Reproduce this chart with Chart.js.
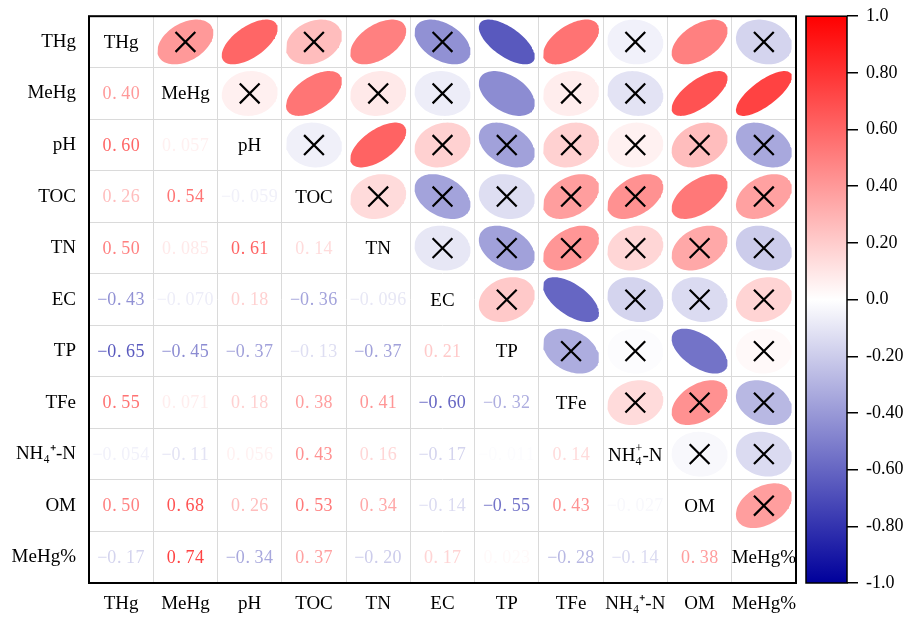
<!DOCTYPE html>
<html>
<head>
<meta charset="utf-8">
<script src="https://cdn.jsdelivr.net/npm/chart.js@4.4.0/dist/chart.umd.min.js"></script>
<style>
  html, body { margin: 0; padding: 0; background: #ffffff; }
  #wrap { width: 916px; height: 619px; }
</style>
</head>
<body>
<div id="wrap"><canvas id="c" width="916" height="619"></canvas></div>
<script>
// ---------------- data ----------------
const variables = ['THg', 'MeHg', 'pH', 'TOC', 'TN', 'EC', 'TP', 'TFe', 'NH4+-N', 'OM', 'MeHg%'];
const axisLabels = ['THg', 'MeHg', 'pH', 'TOC', 'TN', 'EC', 'TP', 'TFe', 'NH\u2084\u207A-N', 'OM', 'MeHg%'];

// lower-triangle correlation coefficients (row variable vs. earlier columns)
const rTHg   = [];
const rMeHg  = [0.40];
const rPH    = [0.60, 0.057];
const rTOC   = [0.26, 0.54, -0.059];
const rTN    = [0.50, 0.085, 0.61, 0.14];
const rEC    = [-0.43, -0.070, 0.18, -0.36, -0.096];
const rTP    = [-0.65, -0.45, -0.37, -0.13, -0.37, 0.21];
const rTFe   = [0.55, 0.071, 0.18, 0.38, 0.41, -0.60, -0.32];
const rNH4   = [-0.054, -0.11, 0.056, 0.43, 0.16, -0.17, -0.011, 0.14];
const rOM    = [0.50, 0.68, 0.26, 0.53, 0.34, -0.14, -0.55, 0.43, -0.027];
const rMeHgP = [-0.17, 0.74, -0.34, 0.37, -0.20, 0.17, 0.023, -0.28, -0.14, 0.38];
const lowerRows = [rTHg, rMeHg, rPH, rTOC, rTN, rEC, rTP, rTFe, rNH4, rOM, rMeHgP];

// pairs shown without a cross (significant)
const significantPairs = [
  ['THg', 'pH'], ['THg', 'TN'], ['THg', 'TP'], ['THg', 'TFe'], ['THg', 'OM'],
  ['MeHg', 'TOC'], ['MeHg', 'TP'], ['MeHg', 'OM'], ['MeHg', 'MeHg%'],
  ['pH', 'TN'], ['TOC', 'OM'], ['EC', 'TFe'], ['TP', 'OM']
];

// colour bar
const cbTicks = [-1, -0.8, -0.6, -0.4, -0.2, 0, 0.2, 0.4, 0.6, 0.8, 1];
const cbTickLabels = ['-1.0', '-0.80', '-0.60', '-0.40', '-0.20', '0.0', '0.20', '0.40', '0.60', '0.80', '1.0'];

// ---------------- helpers ----------------
function corrColor(v) {
  if (v >= 0) {
    const g = Math.round(255 * (1 - v));
    return `rgb(255,${g},${g})`;
  }
  const t = -v;
  const c = Math.round(255 * (1 - t));
  const b = Math.round(255 - t * (255 - 155));
  return `rgb(${c},${c},${b})`;
}
function corr(i, j) { // symmetric lookup
  return i > j ? lowerRows[i][j] : lowerRows[j][i];
}
function fmt(v) {
  const s = Math.abs(v) < 0.1 ? v.toPrecision(2) : v.toFixed(2);
  return s.replace('-', '\u2212');
}
const isSig = (i, j) => significantPairs.some(([a, b]) =>
  (variables.indexOf(a) === i && variables.indexOf(b) === j) ||
  (variables.indexOf(a) === j && variables.indexOf(b) === i));

// ---------------- datasets ----------------
const ELL = 0.435;   // half size of ellipse in cell units
const datasets = [];
const crossPts = [];
for (let i = 0; i < variables.length; i++) {
  for (let j = i + 1; j < variables.length; j++) {
    const r = corr(i, j);
    const d = Math.acos(r);
    const pts = [];
    for (let k = 0; k <= 90; k++) {
      const t = (k / 90) * 2 * Math.PI;
      pts.push({ x: j + ELL * Math.cos(t + d / 2), y: i - ELL * Math.cos(t - d / 2) });
    }
    const col = corrColor(r);
    datasets.push({
      type: 'scatter', data: pts, showLine: true, fill: 'shape',
      backgroundColor: col, borderColor: col, borderWidth: 0,
      pointRadius: 0, pointHoverRadius: 0, tension: 0, order: 2
    });
    if (!isSig(i, j)) crossPts.push({ x: j, y: i });
  }
}
datasets.push({
  type: 'scatter', data: crossPts, pointStyle: 'crossRot', pointRadius: 14, pointHoverRadius: 14,
  pointBorderColor: '#000', pointBorderWidth: 2.2, pointBackgroundColor: '#000', order: 0
});

// ---------------- overlay plugin ----------------
const overlay = {
  id: 'overlay',
  afterDatasetsDraw(chart) {
    const { ctx, chartArea: a, scales } = chart;
    const sx = scales.x, sy = scales.y, cb = scales.cb, gap = scales.gap;
    ctx.save();
    // numbers in the lower triangle
    ctx.font = '18px "Liberation Serif"';
    ctx.textBaseline = 'middle';
    const adv = 9.4;
    for (let i = 0; i < variables.length; i++) {
      for (let j = 0; j < i; j++) {
        const v = lowerRows[i][j];
        const chars = [...fmt(v)];
        const cx = sx.getPixelForValue(j), cy = sy.getPixelForValue(i) + 1;
        const x0 = cx - chars.length * adv / 2;
        ctx.fillStyle = corrColor(v);
        chars.forEach((c, k) => {
          if (c === '.') { ctx.textAlign = 'left'; ctx.fillText(c, x0 + k * adv + 0.5, cy); }
          else { ctx.textAlign = 'center'; ctx.fillText(c, x0 + k * adv + adv / 2, cy); }
        });
      }
    }
    // diagonal labels
    ctx.fillStyle = '#000';
    for (let i = 0; i < variables.length; i++) {
      const cx = sx.getPixelForValue(i), cy = sy.getPixelForValue(i);
      if (variables[i] === 'NH4+-N') {
        ctx.font = '19px "Liberation Serif"';
        const wNH = ctx.measureText('NH').width, wN = ctx.measureText('-N').width;
        const wS = 7;
        let x = cx - (wNH + wS + wN) / 2;
        const base = cy + 6.5;
        ctx.textAlign = 'left'; ctx.textBaseline = 'alphabetic';
        ctx.fillText('NH', x, base); x += wNH;
        ctx.font = '12px "Liberation Serif"';
        ctx.fillText('4', x, base + 4);
        ctx.fillText('+', x, base - 9);
        x += wS;
        ctx.font = '19px "Liberation Serif"';
        ctx.fillText('-N', x, base);
        ctx.textBaseline = 'middle';
      } else {
        ctx.font = '19px "Liberation Serif"';
        ctx.textAlign = 'center';
        ctx.fillText(variables[i], cx, cy + 1);
      }
    }
    // frame
    ctx.strokeStyle = '#000';
    ctx.lineWidth = 2;
    ctx.strokeRect(a.left, a.top, a.right - a.left, a.bottom - a.top);
    // colour bar
    const top = cb.getPixelForValue(1), bot = cb.getPixelForValue(-1);
    const left = gap.left + 10, right = cb.left;
    const grad = ctx.createLinearGradient(0, top, 0, bot);
    cbTicks.forEach(v => grad.addColorStop((1 - v) / 2, corrColor(v)));
    ctx.fillStyle = grad;
    ctx.fillRect(left, top, right - left, bot - top);
    ctx.lineWidth = 1.5;
    ctx.strokeRect(left, top, right - left, bot - top);
    ctx.restore();
  }
};

const font19 = { family: 'Liberation Serif', size: 19 };
new Chart(document.getElementById('c'), {
  data: { datasets },
  options: {
    responsive: false,
    animation: false,
    events: [],
    layout: { padding: { top: 13, right: 0, bottom: 0, left: 0 } },
    plugins: { legend: { display: false }, tooltip: { enabled: false } },
    scales: {
      x: {
        type: 'linear', position: 'bottom', min: -0.5, max: 10.5,
        afterBuildTicks: s => { s.ticks = variables.map((_, i) => ({ value: i })); },
        ticks: { callback: (v, i) => axisLabels[i], font: font19, color: '#000', padding: 10, maxRotation: 0, autoSkip: false },
        grid: { offset: true, color: '#dadada', lineWidth: 1, drawTicks: false },
        border: { display: false },
        afterFit: s => { s.height = 36; s.paddingLeft = 0; s.paddingRight = 0; }
      },
      y: {
        type: 'linear', position: 'left', reverse: true, min: -0.5, max: 10.5,
        afterBuildTicks: s => { s.ticks = variables.map((_, i) => ({ value: i })); },
        ticks: { callback: (v, i) => axisLabels[i], font: font19, color: '#000', padding: 13, autoSkip: false },
        grid: { offset: true, color: '#dadada', lineWidth: 1, drawTicks: false },
        border: { display: false },
        afterFit: s => { s.width = 89; s.paddingTop = 0; s.paddingBottom = 0; }
      },
      gap: {
        type: 'linear', position: 'right', weight: 1, display: true,
        ticks: { display: false }, grid: { display: false, drawTicks: false }, border: { display: false },
        afterFit: s => { s.width = 51; s.paddingTop = 0; s.paddingBottom = 0; }
      },
      cb: {
        type: 'linear', position: 'right', weight: 2, min: -1, max: 1,
        afterBuildTicks: s => { s.ticks = cbTicks.map(v => ({ value: v })); },
        ticks: { callback: (v, i) => cbTickLabels[i], font: { family: 'Liberation Serif', size: 18 }, color: '#000', padding: 8, autoSkip: false },
        grid: { drawOnChartArea: false, drawTicks: true, tickLength: 11, color: '#000', lineWidth: 1.5 },
        border: { display: false },
        afterFit: s => { s.width = 69; s.paddingTop = 0; s.paddingBottom = 0; }
      }
    }
  },
  plugins: [overlay]
});
</script>
</body>
</html>
